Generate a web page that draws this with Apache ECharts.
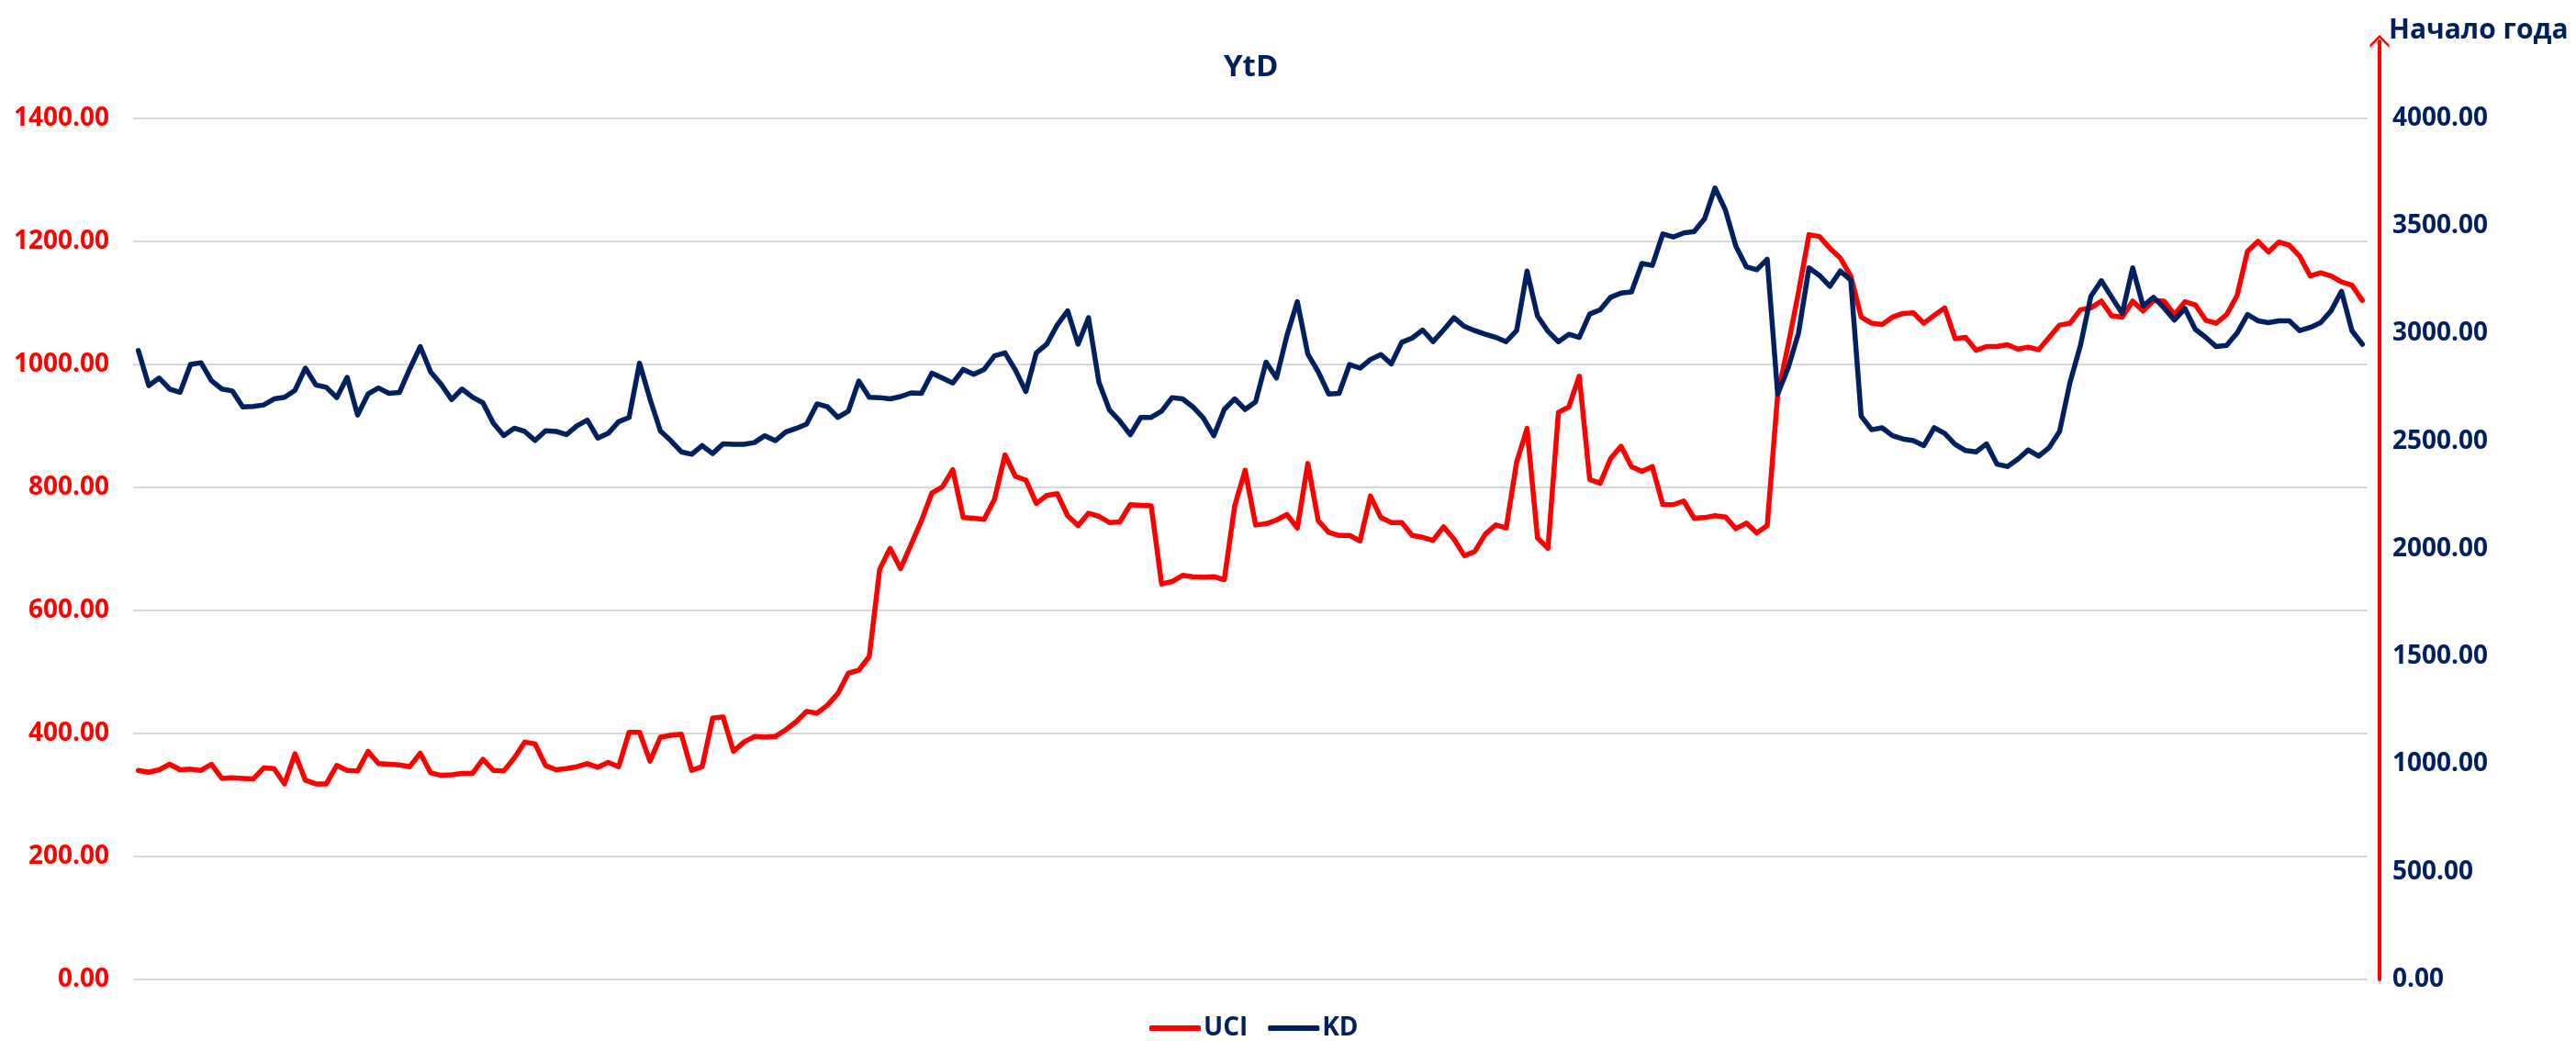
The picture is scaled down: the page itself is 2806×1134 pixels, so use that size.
<!DOCTYPE html>
<html>
<head>
<meta charset="utf-8">
<title>YtD</title>
<script src="https://cdn.jsdelivr.net/npm/echarts@6/dist/echarts.min.js"></script>
<style>
    html, body { margin: 0; padding: 0; background: #fff; }
    #chart { width: 2806px; height: 1134px; }
</style>
</head>
<body>
<div id="chart"></div>
<script>
var RED = '#FF0000';
var NAVY = '#002060';
var FONT = 'Open Sans';

// UCI, left axis
var uci = [
    340, 337, 341, 350, 341, 342, 340, 350, 327, 328, 327, 326, 344, 343, 318, 367, 324, 318, 318, 348,
    340, 339, 371, 351, 350, 349, 346, 368, 336, 332, 333, 335, 335, 358, 340, 339, 360, 386, 383, 348,
    341, 343, 346, 351, 345, 353, 346, 402, 402, 355, 394, 397, 399, 340, 346, 425, 427, 371, 386, 395,
    394, 395, 406, 419, 436, 433, 446, 465, 498, 503, 525, 667, 701, 668, 707, 746, 791, 801, 829, 751,
    750, 748, 781, 853, 818, 812, 774, 787, 790, 754, 738, 758, 753, 743, 744, 772, 771, 770, 643, 647,
    657, 655, 654, 655, 650, 770, 828, 739, 741, 747, 756, 734, 839, 746, 727, 722, 722, 713, 786, 751,
    743, 743, 722, 719, 714, 736, 716, 689, 696, 724, 739, 734, 841, 896, 718, 701, 922, 931, 981, 813,
    807, 847, 867, 834, 826, 834, 772, 772, 778, 750, 751, 754, 752, 733, 742, 726, 738, 951, 1031, 1118,
    1211, 1208, 1189, 1173, 1144, 1077, 1067, 1065, 1077, 1083, 1084, 1067, 1080, 1092, 1042, 1044, 1023, 1029, 1029, 1032,
    1025, 1028, 1024, 1044, 1064, 1067, 1089, 1092, 1103, 1079, 1077, 1103, 1087, 1104, 1103, 1081, 1102, 1097, 1072, 1067,
    1081, 1112, 1184, 1200, 1183, 1199, 1194, 1176, 1144, 1149, 1144, 1134, 1129, 1104
];

// KD, right axis
var kd = [
    2922, 2759, 2794, 2743, 2728, 2857, 2865, 2782, 2743, 2734, 2660, 2662, 2669, 2697, 2705, 2737, 2840, 2762, 2751, 2703,
    2797, 2622, 2720, 2748, 2723, 2727, 2837, 2940, 2822, 2765, 2694, 2743, 2705, 2679, 2584, 2527, 2561, 2546, 2504, 2549,
    2546, 2531, 2572, 2599, 2515, 2537, 2591, 2611, 2863, 2697, 2548, 2503, 2451, 2440, 2480, 2443, 2488, 2486, 2486, 2494,
    2526, 2503, 2543, 2560, 2580, 2674, 2660, 2611, 2640, 2780, 2705, 2703, 2697, 2708, 2725, 2723, 2817, 2794, 2771, 2834,
    2811, 2834, 2897, 2911, 2831, 2731, 2911, 2951, 3040, 3106, 2951, 3074, 2774, 2646, 2594, 2531, 2611, 2611, 2640, 2703,
    2697, 2660, 2608, 2526, 2648, 2697, 2648, 2683, 2868, 2794, 2991, 3149, 2906, 2823, 2720, 2723, 2857, 2840, 2880, 2903,
    2860, 2960, 2980, 3017, 2963, 3017, 3074, 3034, 3014, 2997, 2983, 2963, 3014, 3291, 3082, 3011, 2963, 2997, 2983, 3091,
    3111, 3169, 3189, 3194, 3326, 3317, 3463, 3449, 3468, 3474, 3534, 3677, 3574, 3406, 3311, 3297, 3346, 2720, 2840, 3003,
    3306, 3271, 3220, 3291, 3249, 2617, 2554, 2563, 2526, 2511, 2503, 2480, 2563, 2537, 2486, 2457, 2451, 2488, 2394, 2383,
    2417, 2460, 2431, 2471, 2546, 2774, 2946, 3174, 3246, 3169, 3094, 3306, 3129, 3169, 3120, 3063, 3117, 3020, 2983, 2940,
    2946, 3003, 3089, 3060, 3051, 3060, 3060, 3014, 3029, 3051, 3106, 3197, 3014, 2951
];

// the dates are not shown on the chart, only their count matters
var days = uci.map(function (v, i) { return String(i + 1); });

var seriesNames = ['UCI', 'KD'];

// axes stretch above the top tick so the arrow of the right axis sits over 1400 / 4000
var leftMax = 1525.4, leftStep = 200;
var rightMax = 4358.2, rightStep = 500;

var chart = echarts.init(document.getElementById('chart'));

var option = {
    backgroundColor: '#fff',
    animation: false,
    textStyle: { fontFamily: FONT },
    title: {
        text: 'YtD',
        left: 1333,
        top: 57,
        padding: 0,
        textStyle: { color: NAVY, fontSize: 33, fontWeight: 'bold', fontFamily: FONT }
    },
    legend: {
        data: seriesNames,
        icon: 'roundRect',
        left: 1252,
        top: 1106,
        padding: 0,
        itemWidth: 56,
        itemHeight: 6,
        itemGap: 22,
        textStyle: { color: NAVY, fontSize: 28, fontWeight: 'bold', fontFamily: FONT, padding: [0, 0, 0, -2] }
    },
    grid: {
        left: 145,
        right: 227,
        top: 45,
        bottom: 67,
        containLabel: false
    },
    xAxis: {
        type: 'category',
        data: days,
        boundaryGap: true,
        axisLine: { show: false },
        axisTick: { show: false },
        axisLabel: { show: false },
        splitLine: { show: false }
    },
    yAxis: [
        {
            type: 'value',
            position: 'left',
            min: 0,
            max: leftMax,
            interval: leftStep,
            axisLine: { show: false },
            axisTick: { show: false },
            axisLabel: {
                showMaxLabel: false,
                margin: 26,
                color: RED,
                fontSize: 28,
                fontWeight: 'bold',
                fontFamily: FONT,
                formatter: function (v) { return v.toFixed(2); }
            },
            splitLine: {
                show: true,
                showMaxLine: false,
                lineStyle: { color: '#D9D9D9', width: 2 }
            }
        },
        {
            type: 'value',
            position: 'right',
            offset: 13,
            min: 0,
            max: rightMax,
            interval: rightStep,
            name: 'Начало года',
            nameLocation: 'end',
            nameGap: 12,
            nameTextStyle: {
                color: NAVY,
                fontSize: 30,
                fontWeight: 'bold',
                fontFamily: FONT,
                align: 'left',
                verticalAlign: 'middle',
                padding: [0, 0, 0, 10]
            },
            axisLine: {
                show: true,
                symbol: ['none', 'path://M0,13.5 L10,3.5 L20,13.5 L20,10 L10,0 L0,10 Z'],
                symbolSize: [21, 21],
                lineStyle: { color: RED, width: 4 }
            },
            axisTick: { show: false },
            axisLabel: {
                showMaxLabel: false,
                margin: 14,
                color: NAVY,
                fontSize: 28,
                fontWeight: 'bold',
                fontFamily: FONT,
                formatter: function (v) { return v.toFixed(2); }
            },
            splitLine: { show: false }
        }
    ],
    series: [
        {
            name: seriesNames[0],
            type: 'line',
            yAxisIndex: 0,
            data: uci,
            symbol: 'none',
            lineStyle: { color: RED, width: 5.5, cap: 'round', join: 'round' },
            itemStyle: { color: RED }
        },
        {
            name: seriesNames[1],
            type: 'line',
            yAxisIndex: 1,
            data: kd,
            symbol: 'none',
            lineStyle: { color: NAVY, width: 5.5, cap: 'round', join: 'round' },
            itemStyle: { color: NAVY }
        }
    ]
};

chart.setOption(option);
</script>
</body>
</html>
